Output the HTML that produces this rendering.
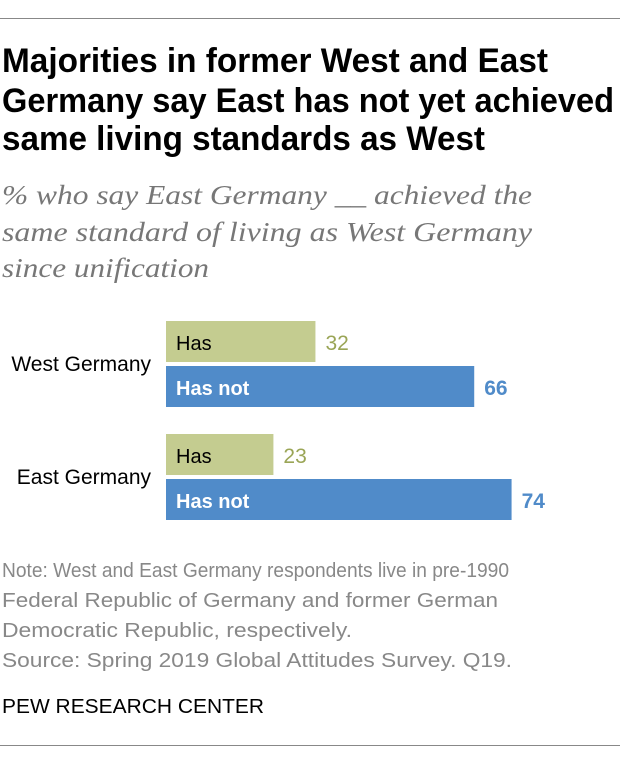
<!DOCTYPE html>
<html><head><meta charset="utf-8"><style>
html,body{margin:0;padding:0;background:#fff;}
svg{display:block;}
</style></head><body>
<svg id="chart" width="620" height="760" viewBox="0 0 620 760" xmlns="http://www.w3.org/2000/svg">
<line x1="0" y1="18.5" x2="620" y2="18.5" stroke="#888" stroke-width="1"/>
<g font-family="Liberation Sans, sans-serif" font-weight="bold" font-size="34" fill="#000">
<text x="2" y="72" textLength="546" lengthAdjust="spacingAndGlyphs">Majorities in former West and East</text>
<text x="2" y="112" textLength="612" lengthAdjust="spacingAndGlyphs">Germany say East has not yet achieved</text>
<text x="2" y="150" textLength="483" lengthAdjust="spacingAndGlyphs">same living standards as West</text>
</g>
<g font-family="Liberation Serif, serif" font-style="italic" font-size="27" fill="#777">
<text x="2" y="204" textLength="530" lengthAdjust="spacingAndGlyphs">% who say East Germany __ achieved the</text>
<text x="2" y="241" textLength="530" lengthAdjust="spacingAndGlyphs">same standard of living as West Germany</text>
<text x="2" y="277" textLength="207" lengthAdjust="spacingAndGlyphs">since unification</text>
</g>
<g id="bars"></g>
<g font-family="Liberation Sans, sans-serif" font-size="20" fill="#888">
<text x="2" y="577" textLength="507" lengthAdjust="spacingAndGlyphs">Note: West and East Germany respondents live in pre-1990</text>
<text x="2" y="607" textLength="496" lengthAdjust="spacingAndGlyphs">Federal Republic of Germany and former German</text>
<text x="2" y="637" textLength="350" lengthAdjust="spacingAndGlyphs">Democratic Republic, respectively.</text>
<text x="2" y="667" textLength="510" lengthAdjust="spacingAndGlyphs">Source: Spring 2019 Global Attitudes Survey. Q19.</text>
</g>
<text x="2" y="713" font-family="Liberation Sans, sans-serif" font-size="20" fill="#000" textLength="262" lengthAdjust="spacingAndGlyphs">PEW RESEARCH CENTER</text>
<line x1="0" y1="745.5" x2="620" y2="745.5" stroke="#888" stroke-width="1"/>
</svg>
<script>
const categories = ["West Germany", "East Germany"];
const hasValues = [32, 23];
const hasNotValues = [66, 74];
const seriesLabels = ["Has", "Has not"];

const NS = "http://www.w3.org/2000/svg";
const g = document.getElementById("bars");
const x0 = 166, unit = 4.67;
const xScale = v => v * unit;
const groupTop = i => 321 + i * 113;
const barH = 41;
function mk(tag, attrs, text) {
  const e = document.createElementNS(NS, tag);
  for (const k in attrs) e.setAttribute(k, attrs[k]);
  if (text !== undefined) e.textContent = text;
  g.appendChild(e);
  return e;
}
categories.forEach((c, i) => {
  const top = groupTop(i);
  const lab = mk("text", {x: 151, y: top + 50, "text-anchor": "end", "font-family": "Liberation Sans, sans-serif", "font-size": 21, fill: "#000"}, c);
  
  
  const series = [[hasValues[i], "#c4cc90", "#000", "normal", "#9aa556"], [hasNotValues[i], "#508bc9", "#fff", "bold", "#508bc9"]];
  series.forEach((s, j) => {
    const y = top + j * 45;
    const r = mk("rect", {x: x0, y: y, width: xScale(s[0]), height: barH, fill: s[1]});
    
    
    const t = mk("text", {x: x0 + 10, y: y + 29, "font-family": "Liberation Sans, sans-serif", "font-size": 20, "font-weight": s[3], fill: s[2]}, seriesLabels[j]);
    
    
    const v = mk("text", {x: x0 + xScale(s[0]) + 10, y: y + 29, "font-family": "Liberation Sans, sans-serif", "font-size": 21, "font-weight": s[3], fill: s[4]}, String(s[0]));
    
    
  });
});
</script>
</body></html>
